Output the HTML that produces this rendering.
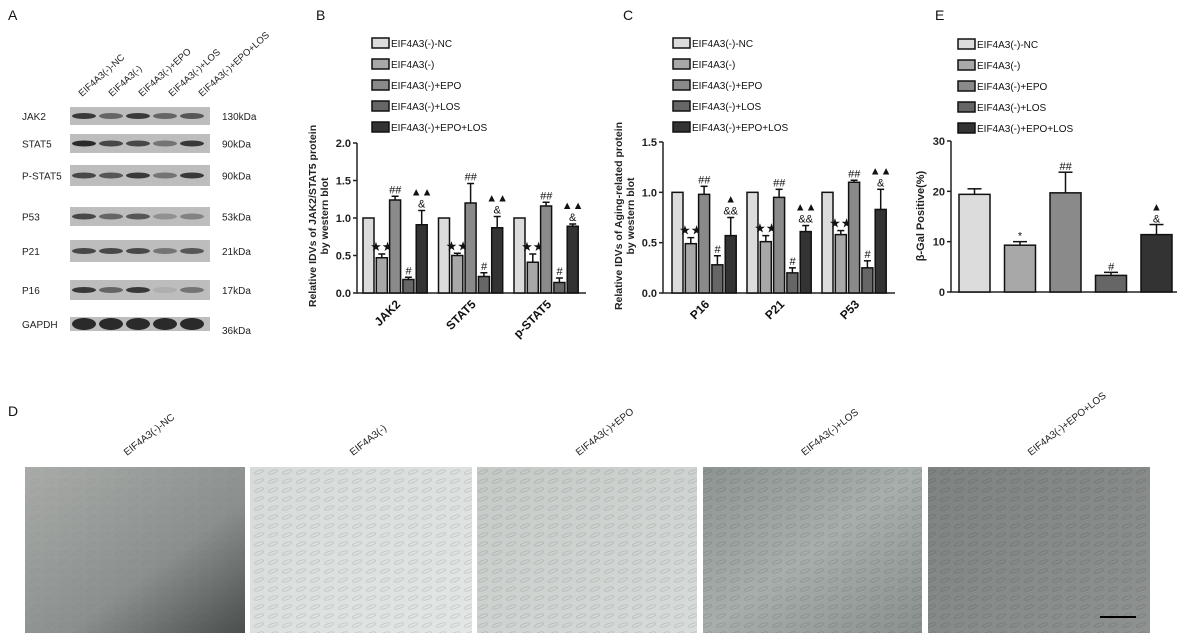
<!DOCTYPE html>
<html><head><meta charset="utf-8">
<style>
body{margin:0;background:#fff;width:1182px;height:644px;overflow:hidden;font-family:"Liberation Sans",sans-serif;}
svg{position:absolute;left:0;top:0}
</style></head>
<body>
<svg id="fig" width="1182" height="644" viewBox="0 0 1182 644" xmlns="http://www.w3.org/2000/svg" font-family="Liberation Sans, sans-serif">
<defs>
<linearGradient id="g1" x1="0" y1="0" x2="1" y2="1"><stop offset="0" stop-color="#a9aca9"/><stop offset="0.6" stop-color="#8b908e"/><stop offset="1" stop-color="#4a4f4d"/></linearGradient>
<linearGradient id="g2" x1="0" y1="0" x2="1" y2="1"><stop offset="0" stop-color="#d6dad8"/><stop offset="1" stop-color="#e2e6e4"/></linearGradient>
<linearGradient id="g3" x1="0" y1="0" x2="1" y2="1"><stop offset="0" stop-color="#c4c9c6"/><stop offset="1" stop-color="#d8dcda"/></linearGradient>
<linearGradient id="g4" x1="0" y1="0" x2="1" y2="1"><stop offset="0" stop-color="#8e9492"/><stop offset="0.5" stop-color="#a8aeac"/><stop offset="1" stop-color="#8a908e"/></linearGradient>
<linearGradient id="g5" x1="0" y1="0" x2="1" y2="1"><stop offset="0" stop-color="#7e8280"/><stop offset="1" stop-color="#8e9290"/></linearGradient>
<pattern id="cells" width="14" height="9" patternUnits="userSpaceOnUse"><ellipse cx="7" cy="4" rx="5" ry="1.6" fill="none" stroke="#000" stroke-opacity="0.12" stroke-width="0.8" transform="rotate(-20 7 4)"/></pattern>
</defs>
<g id="root"></g>
</svg>
<script>
const NS='http://www.w3.org/2000/svg';
const root=document.getElementById('root');
function mk(tag,attrs,parent,text){const e=document.createElementNS(NS,tag);for(const k in attrs)e.setAttribute(k,attrs[k]);if(text!==undefined)e.textContent=text;(parent||root).appendChild(e);return e;}

const groupNames=['EIF4A3(-)-NC','EIF4A3(-)','EIF4A3(-)+EPO','EIF4A3(-)+LOS','EIF4A3(-)+EPO+LOS'];
const fills=['#dcdcdc','#a8a8a8','#8a8a8a','#666666','#333333'];

// Panel B data
const bCats=['JAK2','STAT5','p-STAT5'];
const bVals=[[1.0,0.47,1.24,0.18,0.91],[1.0,0.50,1.20,0.22,0.87],[1.0,0.41,1.16,0.14,0.89]];
const bErr=[[0,0.05,0.05,0.03,0.19],[0,0.03,0.26,0.05,0.15],[0,0.11,0.05,0.06,0.03]];
const bAnn=[['','★★','##','#','▲▲|&'],['','★★','##','#','▲▲|&'],['','★★','##','#','▲▲|&']];
const bTicks=['0.0','0.5','1.0','1.5','2.0'];
// Panel C data
const cCats=['P16','P21','P53'];
const cVals=[[1.0,0.49,0.98,0.28,0.57],[1.0,0.51,0.95,0.20,0.61],[1.0,0.58,1.10,0.25,0.83]];
const cErr=[[0,0.06,0.08,0.09,0.18],[0,0.06,0.08,0.05,0.06],[0,0.04,0.02,0.07,0.20]];
const cAnn=[['','★★','##','#','▲|&&'],['','★★','##','#','▲▲|&&'],['','★★','##','#','▲▲|&']];
const cTicks=['0.0','0.5','1.0','1.5'];
// Panel E data
const eVals=[19.4,9.3,19.7,3.3,11.4];
const eErr=[1.1,0.7,4.1,0.6,2.0];
const eAnn=['','*','##','#','▲|&'];
const eTicks=['0','10','20','30'];

function label(t,x,y){const e=mk('text',{x:x,y:y,'font-size':14,fill:'#111'},root,t);}
function legend(x,y0,name){
  const g=mk('g',{});
  groupNames.forEach((n,i)=>{const y=y0+i*21;
    const r=mk('rect',{x:x,y:y-5,width:17,height:10,fill:fills[i],stroke:'#111','stroke-width':1.5},g);
    
    const t=mk('text',{x:x+19,y:y+4,'font-size':10,fill:'#111'},g,n);
    });
}
function annot(g,txt,x,y){
  const parts=txt.split('|').reverse();let yy=y;
  parts.forEach(p=>{const t=mk('text',{x:x,y:yy,'font-size':p.includes('★')?13:11,'text-anchor':'middle',fill:'#111','font-style':p.includes('#')?'italic':'normal'},g,p);
    yy-=12;});
}
function groupedChart(o){
  const g=mk('g',{});
  const ys=v=>o.y0-(v-o.min)/(o.max-o.min)*(o.y0-o.y1);
  const ax=mk('path',{d:`M${o.ax},${o.y1} V${o.y0} H${o.axEnd}`,stroke:'#222','stroke-width':1.5,fill:'none'},g);
  
  o.ticks.forEach(t=>{const y=ys(parseFloat(t));
    mk('line',{x1:o.ax-4,x2:o.ax,y1:y,y2:y,stroke:'#222','stroke-width':1.5},g);
    const tt=mk('text',{x:o.ax-6,y:y+4,'font-size':11,'font-weight':'bold','text-anchor':'end',fill:'#222'},g,t);
    });
  o.cats.forEach((c,ci)=>{const gx=o.gx0+ci*o.gstep;
    o.vals[ci].forEach((v,i)=>{const x=gx+i*o.stride;const y=ys(v);
      const e=o.err[ci][i];
      if(e>0){mk('line',{x1:x+o.bw/2,x2:x+o.bw/2,y1:y,y2:ys(v+e),stroke:'#111','stroke-width':1.5},g);
        mk('line',{x1:x+o.bw/2-3.5,x2:x+o.bw/2+3.5,y1:ys(v+e),y2:ys(v+e),stroke:'#111','stroke-width':1.5},g);}
      const r=mk('rect',{x:x,y:y,width:o.bw,height:o.y0-y,fill:fills[i],stroke:'#111','stroke-width':1.5},g);
      
      if(o.ann[ci][i])annot(g,o.ann[ci][i],x+o.bw/2,ys(v+e)-3);
    });
    const cx=gx+o.stride*2+o.bw/2;
    const t=mk('text',{x:cx+6,y:o.y0+12,'font-size':12,'font-weight':'bold','text-anchor':'end',fill:'#111',transform:`rotate(-45 ${cx+6} ${o.y0+12})`},g,c);
    
  });
  o.title.forEach((l,i)=>{const x=o.tx+i*12,y=o.ty;
    const t=mk('text',{x:x,y:y,'font-size':10.5,'font-weight':'bold','text-anchor':'middle',fill:'#222',transform:`rotate(-90 ${x} ${y})`},g,l);
    });
}

// Panel A: blots
label('A',8,20);
groupNames.forEach((n,i)=>{const x=82+i*30,y=97;
  const t=mk('text',{x:x,y:y,'font-size':9.5,fill:'#222',transform:`rotate(-42 ${x} ${y})`},root,n);
  });
const blotNames=['JAK2','STAT5','P-STAT5','P53','P21','P16','GAPDH'];
const blotKda=['130kDa','90kDa','90kDa','53kDa','21kDa','17kDa','36kDa'];
const blotY=[107,134,165,207,240,280,317];
const blotH=[18,19,21,19,22,20,14];
const blotInt=[[0.9,0.6,0.9,0.6,0.7],[1,0.8,0.8,0.5,0.9],[0.8,0.7,0.9,0.5,0.9],[0.8,0.6,0.7,0.3,0.4],[0.8,0.8,0.8,0.5,0.7],[0.9,0.6,0.9,0.1,0.5],[1,1,1,1,1]];
blotNames.forEach((b,i)=>{const y=blotY[i],h=blotH[i];
  const g=mk('g',{});
  mk('rect',{x:70,y:y,width:140,height:h,fill:'#bdbdbd'},g);
  blotInt[i].forEach((v,j)=>{mk('ellipse',{cx:84+j*27,cy:y+h/2,rx:12,ry:b==='GAPDH'?6:3,fill:'#1a1a1a','fill-opacity':v*0.9},g);});
  const t=mk('text',{x:22,y:y+h/2+4,'font-size':10,fill:'#222'},g,b);
  const k=mk('text',{x:222,y:y+h/2+4+(b==='GAPDH'?6:0),'font-size':10,fill:'#222'},g,blotKda[i]);
});

// Panel B
label('B',316,20);
legend(372,43,'legend-b');
groupedChart({name:'chart-b',cats:bCats,vals:bVals,err:bErr,ann:bAnn,ticks:bTicks,min:0,max:2,ax:357,axEnd:586,y0:293,y1:143,gx0:363,gstep:75.5,stride:13.3,bw:11,title:['Relative IDVs of JAK2/STAT5  protein','by western blot'],tx:316,ty:216});
// Panel C
label('C',623,20);
legend(673,43,'legend-c');
groupedChart({name:'chart-c',cats:cCats,vals:cVals,err:cErr,ann:cAnn,ticks:cTicks,min:0,max:1.5,ax:663,axEnd:895,y0:293,y1:142,gx0:672,gstep:75,stride:13.3,bw:11,title:['Relative IDVs of Aging-related protein','by western blot'],tx:622,ty:216});

// Panel E
label('E',935,20);
legend(958,44,'legend-e');
(function(){
  const g=mk('g',{});
  const y0=292,y1=141,ys=v=>y0-v/30*(y0-y1);
  mk('path',{d:`M951,${y1} V${y0} H1177`,stroke:'#222','stroke-width':1.5,fill:'none'},g);
  eTicks.forEach(t=>{const y=ys(+t);mk('line',{x1:947,x2:951,y1:y,y2:y,stroke:'#222','stroke-width':1.5},g);
    const tt=mk('text',{x:945,y:y+4,'font-size':11,'font-weight':'bold','text-anchor':'end',fill:'#222'},g,t);
    });
  eVals.forEach((v,i)=>{const x=959+i*45.5,bw=31,y=ys(v),e=eErr[i];
    mk('line',{x1:x+bw/2,x2:x+bw/2,y1:y,y2:ys(v+e),stroke:'#111','stroke-width':1.5},g);
    mk('line',{x1:x+bw/2-7,x2:x+bw/2+7,y1:ys(v+e),y2:ys(v+e),stroke:'#111','stroke-width':1.5},g);
    const r=mk('rect',{x:x,y:y,width:bw,height:y0-y,fill:fills[i],stroke:'#111','stroke-width':1.5},g);
    
    if(eAnn[i])annot(g,eAnn[i],x+bw/2,ys(v+e)-2);});
  const t=mk('text',{x:924,y:216,'font-size':11,'font-weight':'bold','text-anchor':'middle',fill:'#222',transform:'rotate(-90 924 216)'},g,'β-Gal Positive(%)');
  
})();

// Panel D: micrographs
label('D',8,416);
const imgX=[25,250,477,703,928],imgW=[220,222,220,219,222];
const imgFill=['url(#g1)','url(#g2)','url(#g3)','url(#g4)','url(#g5)'];
imgX.forEach((x,i)=>{
  const g=mk('g',{});
  mk('rect',{x:x,y:467,width:imgW[i],height:166,fill:imgFill[i]},g);
  mk('rect',{x:x,y:467,width:imgW[i],height:166,fill:'url(#cells)',opacity:i===0?0.3:1},g);
  const cx=x+imgW[i]/2;
  const t=mk('text',{x:cx-8,y:456,'font-size':10,fill:'#222',transform:`rotate(-38 ${cx-8} 456)`},root,groupNames[i]);
  
});
const sb=mk('line',{x1:1100,x2:1136,y1:617,y2:617,stroke:'#000','stroke-width':2});

</script>
</body></html>
